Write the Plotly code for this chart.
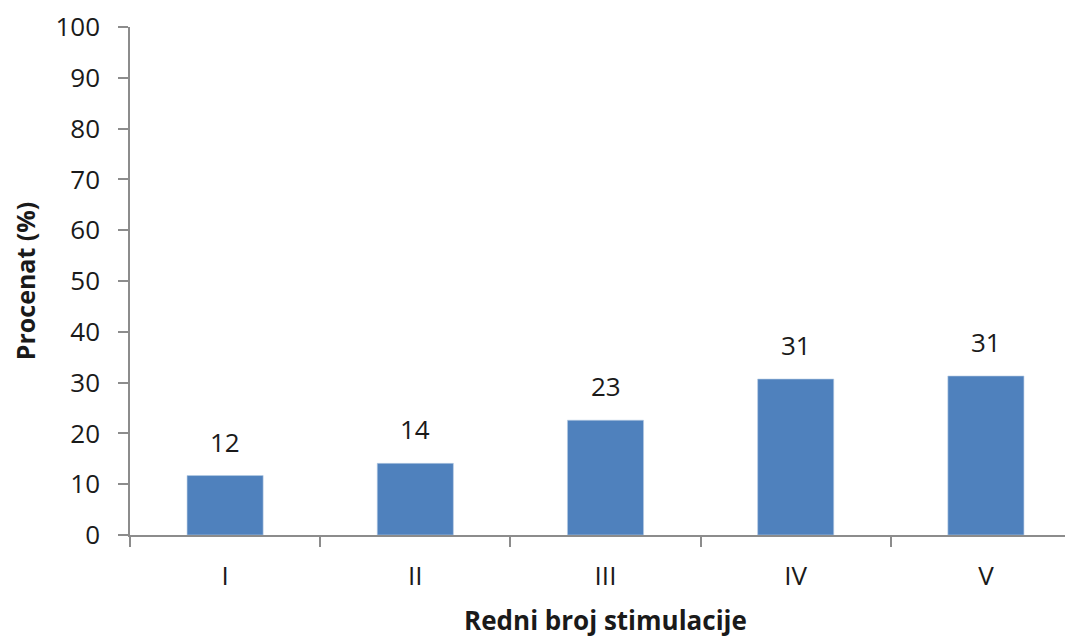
import plotly.graph_objects as go

categories = ["I", "II", "III", "IV", "V"]
values = [11.7, 14.1, 22.6, 30.7, 31.3]
value_labels = ["12", "14", "23", "31", "31"]
y_ticks = [0, 10, 20, 30, 40, 50, 60, 70, 80, 90, 100]

FONT = "Open Sans"
AXIS_COLOR = "#8c8c8c"
TXT = "#1a1a1a"

fig = go.Figure()
fig.add_trace(go.Bar(
    x=categories, y=values, width=0.4,
    marker=dict(color="#4F81BD", line=dict(color="#b8cce4", width=0.6)),
    hoverinfo="skip",
))

for c, v, t in zip(categories, values, value_labels):
    fig.add_annotation(x=c, y=v, text=t, showarrow=False, yanchor="bottom",
                       yshift=14, font=dict(family=FONT, size=26, color=TXT))

# page body has an 8px margin, compensated in the figure margins
fig.update_layout(
    width=1073, height=640,
    margin=dict(l=122, r=0, t=19, b=113),
    paper_bgcolor="white", plot_bgcolor="white",
    showlegend=False,
    font=dict(family=FONT, size=26, color=TXT),
)
fig.update_xaxes(
    type="category", range=[-0.5, 4.5],
    showline=True, linecolor=AXIS_COLOR, linewidth=1.5,
    ticks="outside", ticklen=10, tickcolor=AXIS_COLOR, tickwidth=1.5,
    tickson="boundaries", showgrid=False, zeroline=False,
    ticklabelstandoff=17,
    tickfont=dict(family=FONT, size=26, color=TXT),
    title=dict(text="<b>Redni broj stimulacije</b>", standoff=20,
               font=dict(family=FONT, size=26, color=TXT)),
)
fig.update_yaxes(
    range=[0, 100], tickvals=y_ticks,
    showline=True, linecolor=AXIS_COLOR, linewidth=1.5,
    ticks="outside", ticklen=10, tickcolor=AXIS_COLOR, tickwidth=1.5,
    showgrid=False, zeroline=False, ticklabelstandoff=13,
    tickfont=dict(family=FONT, size=26, color=TXT),
    title=dict(text="<b>Procenat (%)</b>", standoff=14,
               font=dict(family=FONT, size=25, color=TXT)),
)

fig.write_html("out.html")
